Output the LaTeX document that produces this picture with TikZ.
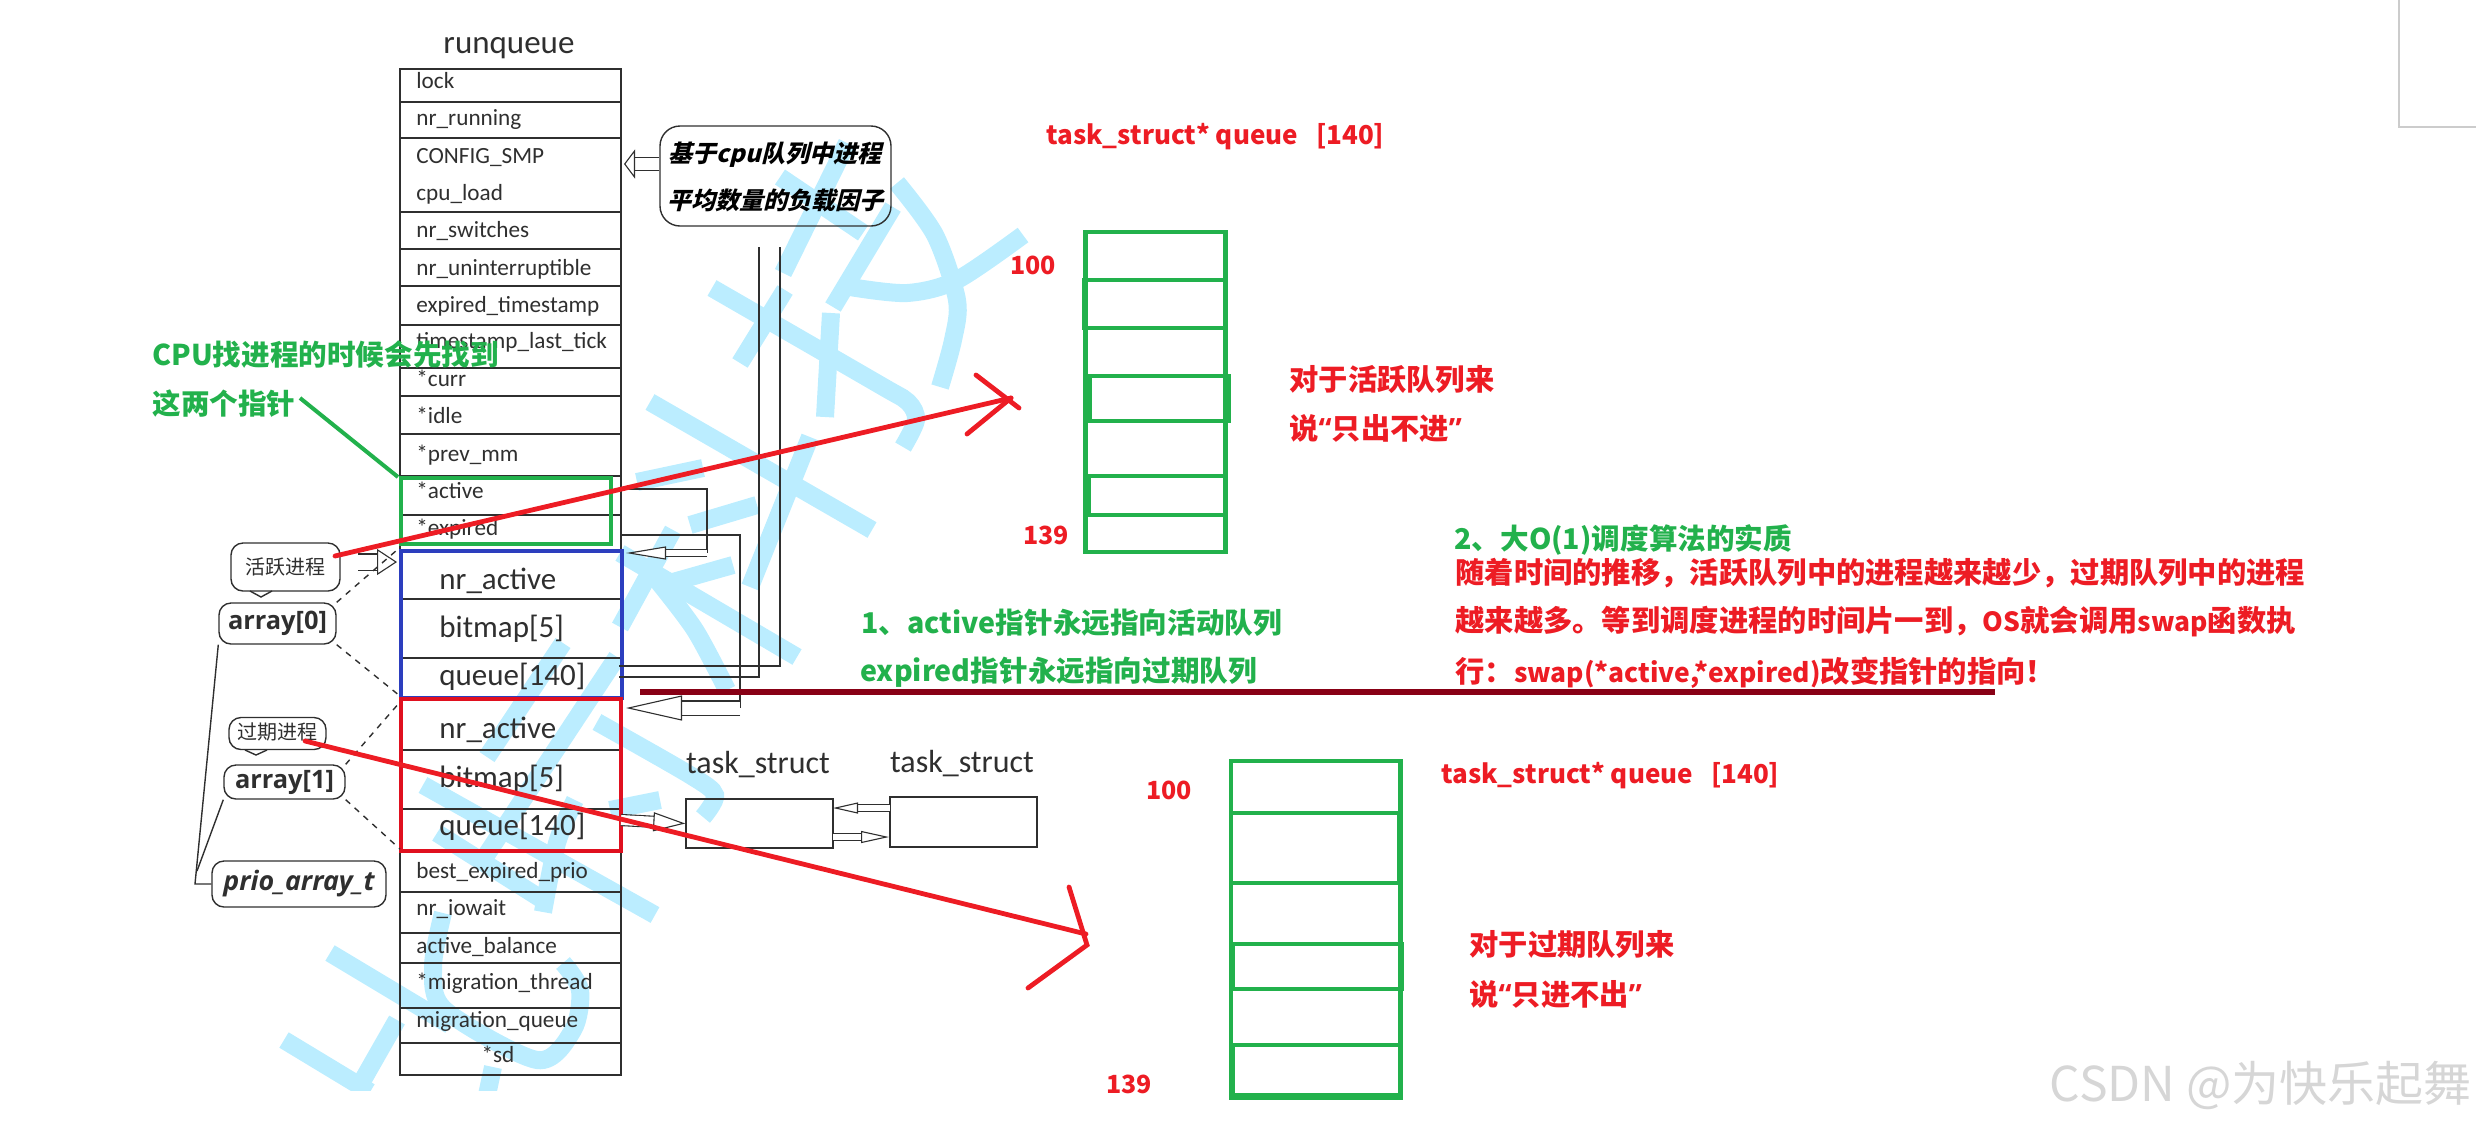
\documentclass[tikz,border=0pt]{standalone}
\usepackage{fontspec}
\usetikzlibrary{arrows.meta}
\setmainfont{Carlito}
\newfontfamily\hei{Noto Sans CJK SC}
\newfontfamily\heislant{Noto Sans CJK SC}[FakeSlant=0.25]
\newfontfamily\opensans{Open Sans}

\definecolor{markgreen}{HTML}{22B14C}
\definecolor{markred}{HTML}{ED1C24}
\definecolor{boxred}{HTML}{E0101F}
\definecolor{boxblue}{HTML}{2C3EBE}
\definecolor{swapline}{HTML}{880015}
\definecolor{wmark}{HTML}{BBEDFF}
\definecolor{ink}{HTML}{2F2F2F}

\newcommand{\lat}[1]{{\fontsize{13.2}{14}\selectfont #1}}
\newcommand{\openq}{{\opensans\bfseries “}}
\newcommand{\closeq}{{\opensans\bfseries ”}}

\tikzset{
  rule/.style={draw=ink,line width=.7pt},
  field/.style={anchor=base west,inner sep=0pt,text=ink,font=\fontsize{11.6}{12}\selectfont},
  bigfield/.style={anchor=base west,inner sep=0pt,text=ink,font=\fontsize{15.5}{16}\selectfont},
  taskname/.style={anchor=base,inner sep=0pt,text=ink,font=\fontsize{16}{17}\selectfont},
  tag/.style={rule,rounded corners=6pt,inner sep=0pt,text=ink},
  greentext/.style={anchor=west,inner sep=0pt,text=markgreen,font=\hei\bfseries\fontsize{14.3}{15}\selectfont},
  redtext/.style={anchor=west,inner sep=0pt,text=markred,font=\hei\bfseries\fontsize{14.65}{15}\selectfont},
  rednum/.style={redtext,font=\hei\bfseries\fontsize{12.5}{13}\selectfont},
  redtitle/.style={redtext,font=\hei\bfseries\fontsize{13}{14}\selectfont},
  wm/.style={draw=wmark,line width=9pt},
  slot/.style={draw=markgreen,line width=2.4pt},
  redline/.style={draw=markred,line width=2.4pt,line cap=round},
  hollow/.style n args={3}{draw=ink,line width=.55pt,double=white,double distance=#1,
    -{Triangle[fill=white,length=#2,width=#3,line width=.55pt]}},
}

\begin{document}
\begin{tikzpicture}[x=.5pt,y=-.5pt]
\useasboundingbox (0,0) rectangle (2476,1126);

% watermark
\begin{scope}
\clip (0,0) rectangle (2476,1090);
\draw[wm] (847,143) -- (783,273);
\draw[wm] (785,290) -- (740,363);
\draw[wm] (780,177) -- (863,233);
\draw[wm] (893,207) -- (833,307);
\draw[wm] plot[smooth] coordinates {(897,183) (935,235) (957,300) (953,340) (940,387)};
\draw[wm] plot[smooth] coordinates {(850,287) (907,293) (957,280) (1023,235)};
\draw[wm] (831,313) -- (825,417);
\draw[wm] plot[smooth] coordinates {(712,288) (880,385) (908,402) (916,420) (903,447)};
\draw[wm] (650,402) -- (872,530);
\draw[wm] (810,437) -- (750,587);
\draw[wm] (703,468) -- (637,482);
\draw[wm] (757,505) -- (690,525);
\draw[wm] (733,565) -- (673,582);
\draw[wm] (673,530) -- (620,627);
\draw[wm] (620,553) -- (797,657);
\draw[wm] plot[smooth] coordinates {(657,580) (695,630) (727,690)};
\draw[wm] (563,643) -- (487,757);
\draw[wm] (617,657) -- (483,860);
\draw[wm] plot[smooth] coordinates {(597,722) (690,775) (715,795) (703,817)};
\draw[wm] (423,785) -- (655,915);
\draw[wm] (437,833) -- (543,900);
\draw[wm] plot[smooth] coordinates {(543,912) (557,843) (575,800)};
\draw[wm] (660,800) -- (610,810);
\draw[wm] plot[smooth] coordinates {(443,913) (433,967) (445,1010) (537,1060) (573,1030) (580,990) (563,963)};
\draw[wm] (330,953) -- (450,1025);
\draw[wm] (284,1040) -- (370,1092);
\draw[wm] (397,1020) -- (360,1085);
\draw[wm] (493,1067) -- (487,1095);
\end{scope}

% sheet corner
\draw[draw=black!20,line width=.6pt] (2399,0) -- (2399,127) -- (2476,127);

% runqueue table
\node[taskname,font=\fontsize{16.5}{17}\selectfont] (runqueue) at (509,53) {runqueue};
\draw[rule] (400,69) rectangle (621,1075);
\foreach \y in {102,138,212,249,286,325,368,396,434,476,515,892,933,963,1008,1043}
  \draw[rule] (400,\y) -- (621,\y);

\node[field] (lock) at (416,88.5) {lock};
\node[field] (nrRunning) at (416,125.5) {nr\_running};
\node[field] (configSmp) at (416,163.5) {CONFIG\_SMP};
\node[field] (cpuLoad) at (416,200) {cpu\_load};
\node[field] (nrSwitches) at (416,237.5) {nr\_switches};
\node[field] (nrUnint) at (416,275) {nr\_uninterruptible};
\node[field] (expiredStamp) at (416,312) {expired\_timestamp};
\node[field] (lastTick) at (416,348) {timestamp\_last\_tick};
\node[field] (curr) at (416,386) {*curr};
\node[field] (idle) at (416,423) {*idle};
\node[field] (prevMm) at (416,461) {*prev\_mm};
\node[field] (activePtr) at (416,498) {*active};
\node[field] (expiredPtr) at (416,535) {*expired};
\node[field] (bestPrio) at (416,878) {best\_expired\_prio};
\node[field] (iowait) at (416,915) {nr\_iowait};
\node[field] (balance) at (416,953) {active\_balance};
\node[field] (migThread) at (416,989) {*migration\_thread};
\node[field] (migQueue) at (416,1027) {migration\_queue};
\node[field,anchor=base] (sd) at (498,1062) {*sd};

% the two arrays
\draw[rule] (400,599) -- (621,599) (400,658) -- (621,658);
\draw[rule] (400,750) -- (621,750) (400,809) -- (621,809);
\node[bigfield] (activeNr) at (439,589) {nr\_active};
\node[bigfield] (activeMap) at (439,637) {bitmap[5]};
\node[bigfield] (activeQueue) at (439,685) {queue[140]};
\node[bigfield] (expiredNr) at (439,738) {nr\_active};
\node[bigfield] (expiredMap) at (439,787) {bitmap[5]};
\node[bigfield] (expiredQueue) at (439,835) {queue[140]};
\draw[draw=boxblue,line width=2.2pt] (401,551) rectangle (622,698);
\draw[draw=boxred,line width=2.4pt] (401,699) rectangle (621,851);
\draw[slot] (401,478) rectangle (611,544);

% pointers on the right of the table
\coordinate (activeOut) at (621,489);
\coordinate (activeBend) at (707,489);
\coordinate (activeEnd) at (707,553);
\coordinate (activeTip) at (626,553);
\coordinate (expiredOut) at (621,535);
\coordinate (expiredBend) at (740,535);
\coordinate (expiredEnd) at (740,708);
\coordinate (expiredTip) at (626,708);
\coordinate (queueOutA) at (619,666);
\coordinate (queueBendA) at (780,666);
\coordinate (queueTopA) at (780,247);
\coordinate (queueOutB) at (619,677);
\coordinate (queueBendB) at (759,677);
\coordinate (queueTopB) at (759,247);
\draw[rule] (activeOut) -- (activeBend) -- (activeEnd);
\draw[rule] (expiredOut) -- (expiredBend) -- (expiredEnd);
\draw[rule] (queueOutA) -- (queueBendA) -- (queueTopA);
\draw[rule] (queueOutB) -- (queueBendB) -- (queueTopB);
\draw[hollow={3pt}{20pt}{6.5pt}] (activeEnd) -- (activeTip);
\draw[hollow={6.5pt}{28pt}{12.5pt}] (expiredEnd) -- (expiredTip);

% task_struct list
\node[rule,minimum width=73.5pt,minimum height=24.5pt,inner sep=0pt] (taskA) at (759.5,823.5) {};
\node[rule,minimum width=73.5pt,minimum height=25pt,inner sep=0pt] (taskB) at (963.5,822) {};
\node[taskname] (taskAName) at (758,773) {task\_struct};
\node[taskname] (taskBName) at (962,772.5) {task\_struct};
\coordinate (queueOut) at (621,820);
\coordinate (prevTail) at (890,808);
\coordinate (prevTip) at (833,808);
\coordinate (nextTail) at (833,837);
\coordinate (nextTip) at (889,837);
\draw[hollow={5pt}{16pt}{9.5pt}] (queueOut) -- (taskA.west);
\draw[hollow={3pt}{12.5pt}{5.5pt}] (prevTail) -- (prevTip);
\draw[hollow={3pt}{14pt}{6pt}] (nextTail) -- (nextTip);

% load factor note
\node[tag,rounded corners=10pt,minimum width=115.5pt,minimum height=50pt] (loadNote) at (775.5,176) {};
\node[text=black,inner sep=0pt,font=\heislant\bfseries\fontsize{12}{13}\selectfont] (loadOne) at (775,155) {基于cpu队列中进程};
\node[text=black,inner sep=0pt,font=\heislant\bfseries\fontsize{12}{13}\selectfont] (loadTwo) at (775,200) {平均数量的负载因子};
\coordinate (loadTip) at (624,164);
\draw[hollow={6pt}{5.5pt}{14.5pt}] (loadNote.west |- loadTip) -- (loadTip);

% left tags
\node[tag,minimum width=54.5pt,minimum height=24pt,font=\hei\fontsize{10}{11}\selectfont] (activeTag) at (285.5,567) {活跃进程};
\node[tag,minimum width=58.5pt,minimum height=20.5pt,font=\opensans\bfseries\fontsize{12.7}{13}\selectfont] (arrayZero) at (277.5,623.5) {array[0]};
\node[tag,minimum width=48.5pt,minimum height=16pt,font=\hei\fontsize{10}{11}\selectfont] (expiredTag) at (277.5,733.5) {\raisebox{2.5pt}{过期进程}};
\node[tag,minimum width=60.5pt,minimum height=17pt,font=\opensans\bfseries\fontsize{12.7}{13}\selectfont] (arrayOne) at (284.5,782) {array[1]};
\node[tag,minimum width=87pt,minimum height=23pt,font=\opensans\bfseries\itshape\fontsize{13.4}{14}\selectfont] (prioArray) at (299,884) {prio\_array\_t};
\draw[rule] (250,591) -- (261,597) -- (272,591);
\draw[rule] (245,750) -- (256,755) -- (267,750);

\coordinate (tagTip) at (397,562);
\coordinate (tagTail) at (358,562);
\draw[hollow={7.5pt}{10pt}{13pt}] (tagTail) -- (tagTip);

\coordinate (blueTop) at (397,550);
\coordinate (blueLow) at (400,696);
\coordinate (redTop) at (400,702);
\coordinate (redLow) at (400,849);
\coordinate (prioJoin) at (195,884);
\coordinate (prioTurn) at (197,871);
\draw[rule,dashed] (arrayZero.north east) -- (blueTop);
\draw[rule,dashed] (arrayZero.south east) -- (blueLow);
\draw[rule,dashed] (arrayOne.north east) -- (redTop);
\draw[rule,dashed] (arrayOne.south east) -- (redLow);
\draw[rule] (arrayZero.south west) -- (prioJoin) -- (prioArray.west);
\draw[rule] (arrayOne.south west) -- (prioTurn);

% green list, active
\draw[slot] (1085.5,232) rectangle (1225.5,552);
\draw[slot] (1084,280) rectangle (1225,328);
\draw[slot] (1090,376) rectangle (1229,421);
\draw[slot] (1089,476) rectangle (1225,515);
\node[redtitle] (activeTitle) at (1046,137) {task\_struct* queue\hspace{9pt}[140]};
\node[rednum] (activeHigh) at (1010,265) {100};
\node[rednum] (activeLow) at (1023,535) {139};
\node[redtext] (activeOne) at (1289,379) {对于活跃队列来};
\node[redtext] (activeTwo) at (1289,428) {说\openq 只出不进\closeq};

% green list, expired
\draw[slot] (1231,761) rectangle (1400.5,1098);
\draw[slot] (1231,813) rectangle (1399,883);
\draw[slot] (1233,944) rectangle (1401.5,989);
\draw[slot] (1233,1045) rectangle (1400.5,1095);
\node[redtitle] (expiredTitle) at (1441,776) {task\_struct* queue\hspace{9pt}[140]};
\node[rednum] (expiredHigh) at (1146,790) {100};
\node[rednum] (expiredLow) at (1106,1084) {139};
\node[redtext] (expiredOne) at (1469,944) {对于过期队列来};
\node[redtext] (expiredTwo) at (1469,994) {说\openq 只进不出\closeq};

% notes
\node[greentext] (cpuOne) at (152,355) {CPU找进程的时候会先找到};
\node[greentext] (cpuTwo) at (152,404) {这两个指针};
\coordinate (cpuFrom) at (300,398);
\coordinate (cpuTo) at (398,477);
\draw[draw=markgreen,line width=2pt] (cpuFrom) -- (cpuTo);

\node[greentext] (ruleOne) at (861,623) {1、active指针永远指向活动队列};
\node[greentext] (ruleTwo) at (860,672) {expired指针永远指向过期队列};
\node[greentext] (bigO) at (1454,540) {2、大O(1)调度算法的实质};
\node[redtext] (swapOne) at (1455,573) {随着时间的推移，活跃队列中的进程越来越少，过期队列中的进程};
\node[redtext] (swapTwo) at (1455,622) {越来越多。等到调度进程的时间片一到，\lat{OS}就会调用\lat{swap}函数执};
\node[redtext] (swapThree) at (1455,673) {行：\lat{swap(*active,*expired)}改变指针的指向！};

\coordinate (swapFrom) at (640,692);
\coordinate (swapTo) at (1995,692);
\draw[draw=swapline,line width=3pt] (swapFrom) -- (swapTo);

% red arrows
\coordinate (activeFrom) at (335,556);
\coordinate (activeAt) at (1011,398);
\coordinate (activeBarbA) at (976,375);
\coordinate (activeBarbB) at (1019,408);
\coordinate (activeBarbC) at (967,434);
\draw[redline] (activeFrom) -- (activeAt);
\draw[redline] (activeBarbA) -- (activeBarbB);
\draw[redline] (activeAt) -- (activeBarbC);

\coordinate (expiredFrom) at (305,741);
\coordinate (expiredAt) at (1086,934);
\coordinate (expiredBarbA) at (1069,887);
\coordinate (expiredBarbB) at (1087,945);
\coordinate (expiredBarbC) at (1028,988);
\draw[redline] (expiredFrom) -- (expiredAt);
\draw[redline] (expiredBarbA) -- (expiredBarbB) -- (expiredBarbC);

% site mark
\node[anchor=east,inner sep=0pt,text=black!16,font=\hei\fontsize{24}{25}\selectfont] (siteMark) at (2472,1085) {CSDN @为快乐起舞};
\end{tikzpicture}
\end{document}
